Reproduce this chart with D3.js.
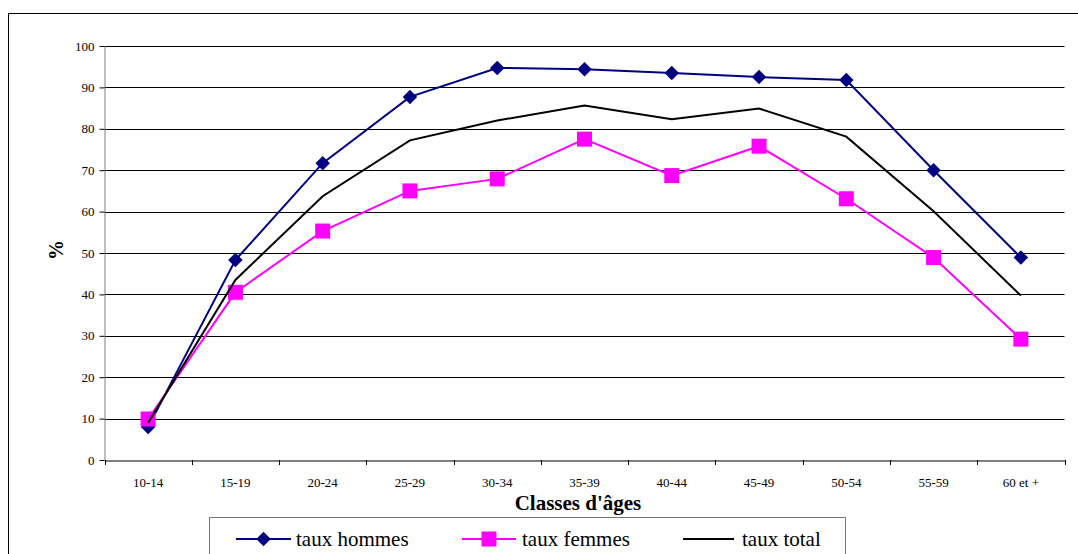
<!DOCTYPE html>
<html><head><meta charset="utf-8">
<script src="https://cdn.jsdelivr.net/npm/d3@7"></script>
<style>body{margin:0;background:#fff;}svg{display:block;}</style>
</head><body>
<svg id="c" width="1078" height="554"></svg>
<script>
const categories = ["10-14","15-19","20-24","25-29","30-34","35-39","40-44","45-49","50-54","55-59","60 et +"];
const hommes = [8.0, 48.3, 71.7, 87.7, 94.7, 94.4, 93.5, 92.5, 91.8, 70.0, 48.9];
const femmes = [9.9, 40.5, 55.3, 65.0, 67.9, 77.5, 68.7, 75.8, 63.1, 48.9, 29.2];
const total  = [9.0, 43.5, 63.7, 77.2, 82.0, 85.6, 82.3, 84.9, 78.1, 60.1, 39.7];
const yTicks = [0,10,20,30,40,50,60,70,80,90,100];
const seriesNames = ["taux hommes","taux femmes","taux total"];

const svg = d3.select("#c");
const serif = "'Liberation Serif','Times New Roman',serif";

// outer frame
svg.append("rect").attr("x",8.5).attr("y",13.5).attr("width",1100).attr("height",600)
  .attr("fill","#fff").attr("stroke","#000").attr("stroke-width",1);

const L = 104.5, R = 1064.5, T = 46, B = 460;
const x = d3.scaleBand().domain(categories).range([L,R]).padding(0);
const y = d3.scaleLinear().domain([0,100]).range([B,T]);

// gridlines
svg.append("g").selectAll("line").data(yTicks.filter(d=>d>0)).join("line")
  .attr("x1",L).attr("x2",R).attr("y1",d=>Math.round(y(d))+0.5).attr("y2",d=>Math.round(y(d))+0.5)
  .attr("stroke","#000").attr("stroke-width",1);

// y axis
const yAxis = svg.append("g").attr("transform",`translate(${L},0)`)
  .call(d3.axisLeft(y).tickValues(yTicks).tickSize(5).tickPadding(5).tickSizeOuter(0));
yAxis.select(".domain").attr("stroke","#808080");
yAxis.selectAll(".tick line").attr("stroke","#000");
yAxis.selectAll("text").attr("font-family",serif).attr("font-size",13).attr("fill","#000");

// x axis
const xAxis = svg.append("g").attr("transform",`translate(0,${B+0.5})`)
  .call(d3.axisBottom(x).tickSize(0).tickPadding(17));
xAxis.select(".domain").attr("stroke","#000");
xAxis.selectAll("text").attr("font-family",serif).attr("font-size",13).attr("fill","#000");
// boundary ticks
const bounds = categories.map(c=>x(c)).concat([R]);
svg.append("g").selectAll("line").data(bounds).join("line")
  .attr("x1",d=>Math.round(d)+0.5).attr("x2",d=>Math.round(d)+0.5).attr("y1",B).attr("y2",B+5)
  .attr("stroke","#000");

// axis titles
svg.append("text").attr("x",578).attr("y",510).attr("text-anchor","middle")
  .attr("font-family",serif).attr("font-weight","bold").attr("font-size",21).text("Classes d'âges");
svg.append("text").attr("transform","translate(63,250) rotate(-90)").attr("text-anchor","middle")
  .attr("font-family",serif).attr("font-weight","bold").attr("font-size",20).text("%");

const cx = c => x(c) + x.bandwidth()/2;
const line = d3.line().x((d,i)=>cx(categories[i])).y(d=>y(d));
const navy = "#000080", pink = "#FF00FF";

// hommes
svg.append("path").datum(hommes).attr("d",line).attr("fill","none").attr("stroke",navy).attr("stroke-width",2);
const diamond = d3.symbol().type(d3.symbolSquare).size(105);
svg.append("g").selectAll("path").data(hommes).join("path")
  .attr("d",diamond).attr("fill",navy)
  .attr("transform",(d,i)=>`translate(${cx(categories[i])},${y(d)}) rotate(45)`);

// femmes
svg.append("path").datum(femmes).attr("d",line).attr("fill","none").attr("stroke",pink).attr("stroke-width",2);
svg.append("g").selectAll("rect").data(femmes).join("rect")
  .attr("x",(d,i)=>cx(categories[i])-7.5).attr("y",d=>y(d)-7.5).attr("width",15).attr("height",15)
  .attr("fill",pink);

// total
svg.append("path").datum(total).attr("d",line).attr("fill","none").attr("stroke","#000").attr("stroke-width",2);

// legend
const lg = svg.append("g");
lg.append("rect").attr("x",209.5).attr("y",517.5).attr("width",636).attr("height",60)
  .attr("fill","#fff").attr("stroke","#777").attr("stroke-width",1);
const legendItems = [
  {name: seriesNames[0], x1:236, x2:291, tx:296, color:navy, mark:"diamond"},
  {name: seriesNames[1], x1:462, x2:516, tx:522, color:pink, mark:"square"},
  {name: seriesNames[2], x1:683, x2:734, tx:742, color:"#000", mark:null}
];
const ly = 539;
legendItems.forEach(it=>{
  lg.append("line").attr("x1",it.x1).attr("x2",it.x2).attr("y1",ly).attr("y2",ly).attr("stroke",it.color).attr("stroke-width",2);
  const mx = (it.x1+it.x2)/2;
  if(it.mark==="diamond") lg.append("path").attr("d",diamond).attr("fill",it.color).attr("transform",`translate(${mx},${ly}) rotate(45)`);
  if(it.mark==="square") lg.append("rect").attr("x",mx-7.5).attr("y",ly-7.5).attr("width",15).attr("height",15).attr("fill",it.color);
  lg.append("text").attr("x",it.tx).attr("y",546).attr("font-family",serif).attr("font-size",21).attr("fill","#000").text(it.name);
});
</script>
</body></html>
